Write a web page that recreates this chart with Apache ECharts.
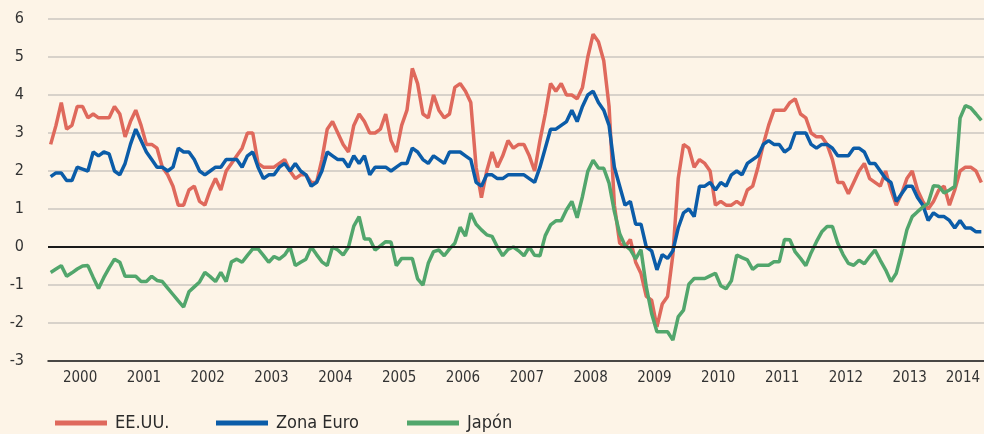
<!DOCTYPE html>
<html>
<head>
<meta charset="utf-8">
<title>Inflación</title>
<script src="https://cdn.jsdelivr.net/npm/echarts@6/dist/echarts.min.js"></script>
<style>
	html, body { margin: 0; padding: 0; background: #fdf4e7; }
	#chart { width: 984px; height: 434px; }
</style>
</head>
<body>
<div id="chart"></div>
<script>
// años del eje (datos mensuales, ene 2000 - ago 2014)
var years = ['2000','2001','2002','2003','2004','2005','2006','2007','2008','2009','2010','2011','2012','2013','2014'];
var lastMonths = 8;

var seriesNames = ['EE.UU.', 'Zona Euro', 'Japón'];

var usa = [
	2.7, 3.2, 3.8, 3.1, 3.2, 3.7, 3.7, 3.4, 3.5, 3.4, 3.4, 3.4,
	3.7, 3.5, 2.9, 3.3, 3.6, 3.2, 2.7, 2.7, 2.6, 2.1, 1.9, 1.6,
	1.1, 1.1, 1.5, 1.6, 1.2, 1.1, 1.5, 1.8, 1.5, 2.0, 2.2, 2.4,
	2.6, 3.0, 3.0, 2.2, 2.1, 2.1, 2.1, 2.2, 2.3, 2.0, 1.8, 1.9,
	1.9, 1.7, 1.7, 2.3, 3.1, 3.3, 3.0, 2.7, 2.5, 3.2, 3.5, 3.3,
	3.0, 3.0, 3.1, 3.5, 2.8, 2.5, 3.2, 3.6, 4.7, 4.3, 3.5, 3.4,
	4.0, 3.6, 3.4, 3.5, 4.2, 4.3, 4.1, 3.8, 2.1, 1.3, 2.0, 2.5,
	2.1, 2.4, 2.8, 2.6, 2.7, 2.7, 2.4, 2.0, 2.8, 3.5, 4.3, 4.1,
	4.3, 4.0, 4.0, 3.9, 4.2, 5.0, 5.6, 5.4, 4.9, 3.7, 1.1, 0.1,
	0.0, 0.2, -0.4, -0.7, -1.3, -1.4, -2.1, -1.5, -1.3, -0.2, 1.8, 2.7,
	2.6, 2.1, 2.3, 2.2, 2.0, 1.1, 1.2, 1.1, 1.1, 1.2, 1.1, 1.5,
	1.6, 2.1, 2.7, 3.2, 3.6, 3.6, 3.6, 3.8, 3.9, 3.5, 3.4, 3.0,
	2.9, 2.9, 2.7, 2.3, 1.7, 1.7, 1.4, 1.7, 2.0, 2.2, 1.8, 1.7,
	1.6, 2.0, 1.5, 1.1, 1.4, 1.8, 2.0, 1.5, 1.2, 1.0, 1.2, 1.5,
	1.6, 1.1, 1.5, 2.0, 2.1, 2.1, 2.0, 1.7
];

var euro = [
	1.85, 1.95, 1.95, 1.75, 1.75, 2.1, 2.05, 2.0, 2.5, 2.4, 2.5, 2.45,
	2.0, 1.9, 2.2, 2.7, 3.1, 2.8, 2.5, 2.3, 2.1, 2.1, 2.0, 2.1,
	2.6, 2.5, 2.5, 2.3, 2.0, 1.9, 2.0, 2.1, 2.1, 2.3, 2.3, 2.3,
	2.1, 2.4, 2.5, 2.1, 1.8, 1.9, 1.9, 2.1, 2.2, 2.0, 2.2, 2.0,
	1.9, 1.6, 1.7, 2.0, 2.5, 2.4, 2.3, 2.3, 2.1, 2.4, 2.2, 2.4,
	1.9, 2.1, 2.1, 2.1, 2.0, 2.1, 2.2, 2.2, 2.6, 2.5, 2.3, 2.2,
	2.4, 2.3, 2.2, 2.5, 2.5, 2.5, 2.4, 2.3, 1.7, 1.6, 1.9, 1.9,
	1.8, 1.8, 1.9, 1.9, 1.9, 1.9, 1.8, 1.7, 2.1, 2.6, 3.1, 3.1,
	3.2, 3.3, 3.6, 3.3, 3.7, 4.0, 4.1, 3.8, 3.6, 3.2, 2.1, 1.6,
	1.1, 1.2, 0.6, 0.6, 0.0, -0.1, -0.6, -0.2, -0.3, -0.1, 0.5, 0.9,
	1.0, 0.8, 1.6, 1.6, 1.7, 1.5, 1.7, 1.6, 1.9, 2.0, 1.9, 2.2,
	2.3, 2.4, 2.7, 2.8, 2.7, 2.7, 2.5, 2.6, 3.0, 3.0, 3.0, 2.7,
	2.6, 2.7, 2.7, 2.6, 2.4, 2.4, 2.4, 2.6, 2.6, 2.5, 2.2, 2.2,
	2.0, 1.8, 1.7, 1.2, 1.4, 1.6, 1.6, 1.3, 1.1, 0.7, 0.9, 0.8,
	0.8, 0.7, 0.5, 0.7, 0.5, 0.5, 0.4, 0.4
];

var japan = [
	-0.67, -0.58, -0.49, -0.77, -0.68, -0.58, -0.5, -0.49, -0.8, -1.09, -0.8, -0.55,
	-0.32, -0.4, -0.77, -0.77, -0.77, -0.91, -0.91, -0.77, -0.88, -0.91, -1.08, -1.25,
	-1.42, -1.58, -1.18, -1.05, -0.92, -0.67, -0.78, -0.91, -0.67, -0.91, -0.39, -0.32,
	-0.4, -0.22, -0.05, -0.05, -0.22, -0.4, -0.25, -0.32, -0.21, 0.0, -0.49, -0.4,
	-0.32, 0.0, -0.2, -0.39, -0.49, 0.0, -0.08, -0.21, 0.0, 0.55, 0.8, 0.21,
	0.21, -0.08, 0.03, 0.14, 0.13, -0.49, -0.3, -0.3, -0.3, -0.84, -1.0, -0.43,
	-0.12, -0.08, -0.23, -0.05, 0.1, 0.52, 0.29, 0.89, 0.6, 0.45, 0.32, 0.28,
	0.0, -0.23, -0.06, 0.0, -0.1, -0.23, 0.0, -0.22, -0.23, 0.3, 0.58, 0.69,
	0.69, 0.98, 1.2, 0.77, 1.33, 1.99, 2.28, 2.08, 2.07, 1.68, 0.93, 0.35,
	0.04, -0.07, -0.31, -0.07, -1.05, -1.75, -2.23, -2.23, -2.23, -2.45, -1.84, -1.66,
	-0.98, -0.83, -0.83, -0.83, -0.76, -0.69, -1.02, -1.1, -0.89, -0.21, -0.28, -0.34,
	-0.59, -0.48, -0.48, -0.48, -0.39, -0.39, 0.2, 0.19, -0.13, -0.3, -0.49, -0.15,
	0.14, 0.4, 0.54, 0.54, 0.1, -0.2, -0.43, -0.48, -0.35, -0.44, -0.25, -0.08,
	-0.35, -0.6, -0.91, -0.69, -0.15, 0.45, 0.8, 0.93, 1.05, 1.15, 1.61, 1.6,
	1.42, 1.5, 1.59, 3.39, 3.72, 3.66, 3.5, 3.33
];

var colors = ['#df695c', '#0b5ca8', '#52a66c'];
var fontName = '"Liberation Sans Narrow", "DejaVu Sans Condensed", "Liberation Sans", sans-serif';

var months = [];
for (var y = 0; y < years.length; y++) {
	var n = (y === years.length - 1) ? lastMonths : 12;
	for (var m = 1; m <= n; m++) {
		months.push(years[y] + '-' + (m < 10 ? '0' + m : m));
	}
}

function lineSeries(name, data, color) {
	return {
		name: name,
		type: 'line',
		data: data,
		symbol: 'none',
		color: color,
		lineStyle: { width: 3.5, color: color },
		z: 3
	};
}

// una leyenda por serie, para colocarlas como en el original
function legendItem(name, left) {
	return {
		data: [name],
		left: left,
		top: 409,
		icon: 'rect',
		itemWidth: 52,
		itemHeight: 5,
		textStyle: { fontFamily: fontName, fontSize: 18, color: '#2b2b2b', padding: [0, 0, 0, 3] }
	};
}

var chart = echarts.init(document.getElementById('chart'));
var series = [
	lineSeries(seriesNames[0], usa, colors[0]),
	lineSeries(seriesNames[1], euro, colors[1]),
	lineSeries(seriesNames[2], japan, colors[2])
];
// linea del cero
series[0].markLine = {
	silent: true,
	symbol: 'none',
	label: { show: false },
	lineStyle: { color: '#1a1a1a', width: 2, type: 'solid' },
	data: [{ yAxis: 0 }]
};

chart.setOption({
	animation: false,
	backgroundColor: '#fdf4e7',
	textStyle: { fontFamily: fontName },
	grid: { left: 48, right: -4, top: 19, bottom: 73, containLabel: false },
	legend: [
		legendItem(seriesNames[0], 50),
		legendItem(seriesNames[1], 211),
		legendItem(seriesNames[2], 402)
	],
	xAxis: {
		type: 'category',
		data: months,
		boundaryGap: true,
		axisLine: { onZero: false, lineStyle: { color: '#1a1a1a', width: 1.5 } },
		axisTick: {
			length: 9,
			lineStyle: { color: '#1a1a1a', width: 2 },
			interval: function (index) { return index > 0 && index % 12 === 0; }
		},
		axisLabel: {
			fontFamily: fontName,
			fontSize: 15,
			color: '#333',
			margin: 10,
			padding: [0, 5, 0, 0],
			interval: function (index) { return (index % 12 === 6 && index < 168) || index === 172; },
			formatter: function (v) { return v.slice(0, 4); }
		},
		splitLine: { show: false }
	},
	yAxis: {
		type: 'value',
		min: -3,
		max: 6,
		interval: 1,
		axisLine: { show: false },
		axisTick: { show: false },
		axisLabel: { fontFamily: fontName, fontSize: 16, color: '#333', margin: 24 },
		splitLine: { lineStyle: { color: '#cbc7c0', width: 1.5 } }
	},
	series: series
});
</script>
</body>
</html>
